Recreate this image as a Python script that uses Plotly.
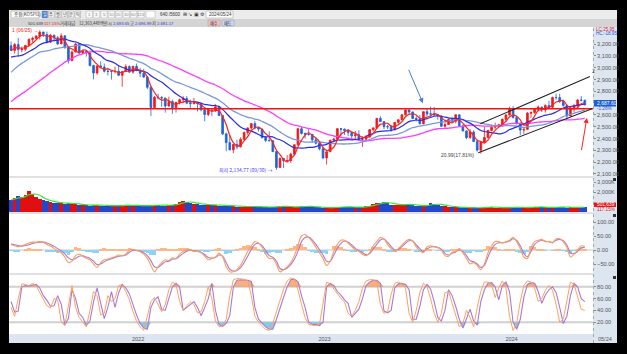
import pandas as pd
import numpy as np
import plotly.graph_objects as go

# ---------------- data (weekly) ----------------
weeks = pd.date_range("2021-04-30", "2024-05-24", freq="W-FRI")  # 161 weekly candles

opens = [3186,3147,3197,3153,3156,3188,3240,3249,3268,3302,3281,3217,3276,3254,3202,3270,3171,3060,3133,3201,
         3125,3140,3125,3019,2956,3015,3006,2970,2969,2968,2971,2936,2968,3010,2963,3012,2977,2954,2921,2834,
         2663,2750,2747,2744,2676,2713,2661,2707,2729,2739,2700,2696,2704,2695,2644,2604,2639,2638,2670,2595,
         2440,2366,2305,2350,2330,2393,2451,2490,2527,2492,2481,2409,2384,2382,2290,2155,2232,2212,2213,2268,
         2348,2483,2444,2437,2434,2389,2360,2313,2236,2289,2386,2395,2484,2480,2469,2451,2423,2432,2394,2395,
         2414,2476,2490,2571,2544,2501,2500,2475,2537,2559,2601,2641,2625,2570,2564,2526,2628,2609,2608,2602,
         2591,2504,2519,2563,2547,2601,2508,2465,2408,2456,2375,2302,2368,2409,2469,2496,2505,2517,2563,2599,
         2655,2578,2525,2472,2478,2615,2620,2648,2667,2642,2680,2666,2748,2747,2714,2681,2591,2656,2676,2727,
         2724]
highs = [3222,3209,3252,3180,3195,3249,3263,3278,3316,3305,3306,3285,3280,3270,3290,3275,3175,3145,3210,3203,
         3150,3145,3145,3025,3020,3055,3035,3000,2975,3010,3020,2970,3030,3020,3015,3035,3000,2990,2930,2840,
         2760,2780,2760,2745,2755,2730,2710,2740,2760,2760,2730,2745,2705,2700,2650,2650,2650,2690,2680,2600,
         2450,2430,2355,2390,2410,2460,2495,2530,2550,2500,2482,2420,2460,2385,2292,2240,2235,2260,2280,2350,
         2490,2500,2450,2490,2440,2410,2375,2330,2290,2390,2405,2485,2490,2485,2480,2460,2465,2470,2420,2430,
         2480,2495,2575,2590,2545,2515,2515,2540,2565,2605,2645,2650,2630,2590,2600,2630,2650,2670,2668,2610,
         2595,2540,2570,2585,2605,2602,2520,2470,2480,2470,2390,2370,2500,2475,2520,2535,2525,2570,2610,2670,
         2675,2595,2540,2490,2625,2630,2660,2680,2670,2690,2720,2755,2780,2780,2730,2685,2665,2695,2735,2760,
         2730]
lows = [3140,3120,3091,3130,3140,3185,3215,3235,3240,3260,3205,3210,3220,3192,3200,3160,3035,3055,3130,3110,
        3115,3095,3010,2901,2940,2995,2960,2935,2900,2950,2930,2839,2965,2955,2950,2970,2920,2915,2820,2591,
        2660,2730,2670,2620,2670,2610,2620,2690,2700,2690,2660,2690,2630,2630,2546,2590,2590,2625,2590,2430,
        2292,2300,2276,2310,2325,2390,2430,2470,2480,2460,2400,2370,2375,2285,2135,2150,2150,2200,2195,2265,
        2340,2435,2400,2425,2365,2350,2300,2225,2180,2285,2370,2390,2420,2430,2420,2400,2395,2390,2330,2380,
        2405,2460,2480,2540,2480,2480,2460,2470,2525,2555,2595,2605,2565,2545,2520,2520,2590,2580,2590,2560,
        2500,2490,2515,2535,2530,2500,2460,2395,2400,2370,2290,2273,2360,2400,2460,2480,2490,2500,2540,2595,
        2570,2520,2429,2440,2475,2575,2610,2630,2625,2620,2650,2660,2730,2700,2670,2560,2590,2620,2670,2715,
        2680]
closes = [3147,3197,3153,3156,3188,3240,3249,3268,3302,3281,3217,3276,3254,3202,3270,3171,3060,3133,3201,3125,
          3140,3125,3019,2956,3015,3006,2970,2969,2968,2971,2936,2968,3010,2963,3012,2977,2954,2921,2834,2663,
          2750,2747,2744,2676,2713,2661,2707,2729,2739,2700,2696,2704,2695,2644,2604,2639,2638,2670,2595,2440,
          2366,2305,2350,2330,2393,2451,2490,2527,2492,2481,2409,2384,2382,2290,2155,2232,2212,2213,2268,2348,
          2483,2444,2437,2434,2389,2360,2313,2236,2289,2386,2395,2484,2480,2469,2451,2423,2432,2394,2395,2414,
          2476,2490,2571,2544,2501,2500,2475,2537,2559,2601,2641,2625,2570,2564,2526,2628,2609,2608,2602,2591,
          2504,2519,2563,2547,2601,2508,2465,2408,2456,2375,2302,2368,2409,2469,2496,2505,2517,2563,2599,2655,
          2578,2525,2472,2478,2615,2620,2648,2667,2642,2680,2666,2748,2747,2714,2681,2591,2656,2676,2727,2724,
          2687]

# closes before the visible window (needed by the moving averages)
pre_weeks = pd.date_range(end="2021-04-23", periods=50, freq="W-FRI")
pre_closes = [1945,1927,1970,2030,2181,2132,2141,2134,2152,2150,2201,2200,2249,2351,2407,2304,2353,2368,2396,2412,
              2278,2327,2391,2341,2360,2267,2416,2493,2553,2633,2731,2770,2772,2806,2873,3152,3085,3140,2976,3120,
              3100,3107,3013,3026,3054,3039,3041,3112,3131,3186]

# daily-average volume per week, thousand shares
volume = [1200000,1400000,1600000,1500000,1700000,2100000,1800000,1500000,1300000,1200000,
          1100000,1000000,950000,900000,900000,850000,900000,800000,780000,750000,
          700000,680000,650000,700000,720000,650000,640000,620000,650000,640000,
          620000,660000,700000,650000,620000,680000,650000,620000,600000,650000,
          750000,700000,650000,650000,700000,750000,800000,1000000,1100000,1000000,
          900000,850000,800000,750000,750000,700000,700000,700000,650000,650000,
          600000,650000,600000,550000,550000,550000,550000,550000,550000,500000,
          500000,500000,480000,520000,530000,620000,560000,520000,500000,500000,
          540000,600000,560000,540000,520000,480000,460000,440000,420000,450000,
          480000,460000,520000,540000,500000,480000,460000,520000,500000,600000,
          650000,800000,900000,950000,1000000,900000,750000,700000,750000,720000,
          800000,750000,700000,650000,600000,600000,700000,900000,800000,700000,
          650000,600000,550000,500000,480000,460000,450000,440000,430000,420000,
          420000,430000,500000,520000,480000,450000,430000,420000,450000,480000,
          460000,480000,450000,430000,420000,550000,520000,480000,470000,460000,
          450000,460000,520000,500000,480000,450000,470000,460000,450000,480000,
          501639]

macd = [20,15,12,14,20,25,28,28,30,28, 20,14,6,-4,-10,-25,-45,-40,-20,-15,
        -22,-30,-35,-50,-62,-45,-35,-32,-28,-24, -18,-20,-15,0,2,-2,-6,-15,-30,-55,
        -78,-60,-45,-35,-38,-28,-30,-15,-5,2, 0,-5,-5,-10,-22,-35,-30,-25,-12,-25,
        -60,-78,-78,-70,-55,-30,-5,15,30,25, 10,-15,-30,-30,-50,-78,-70,-60,-45,-20,
        15,50,55,45,30,10,-10,-30,-55,-40, -5,20,35,35,25,12,0,-5,-15,-20,
        -10,15,30,45,40,20,5,-5,5,18, 30,38,32,10,-2,-10,12,15,12,8,
        0,-20,-22,-8,-5,5,-10,-30,-50,-45, -55,-70,-50,-10,15,30,30,25,30,35,
        45,30,5,-25,-30,10,30,35,38,30, 30,25,40,40,30,10,-25,-15,0,15,
        12]
signal = [22,19,16,14,16,19,23,26,28,28, 25,20,13,5,-3,-14,-28,-35,-30,-22,
          -21,-25,-30,-40,-52,-50,-42,-36,-31,-27, -22,-21,-18,-8,-2,-1,-4,-10,-20,-38,
          -60,-62,-52,-42,-40,-33,-31,-22,-12,-4, -1,-3,-4,-8,-16,-27,-29,-27,-18,-22,
          -45,-68,-75,-73,-63,-45,-22,2,20,24, 16,-2,-20,-26,-40,-66,-70,-64,-52,-33,
          -5,30,45,46,36,20,2,-18,-40,-40, -18,6,24,32,28,18,6,-2,-10,-17,
          -13,4,20,36,39,27,12,1,2,12, 24,33,32,18,5,-5,5,11,12,9,
          3,-12,-18,-12,-7,1,-5,-20,-38,-42, -50,-62,-55,-25,3,20,26,26,28,32,
          40,34,15,-12,-24,-5,20,30,35,31, 30,27,35,38,33,18,-10,-13,-5,8,
          10]

stoch_d = [55,37,39,80,82,81,83,84,78,65, 57,47,48,65,50,16,26,75,60,35,
           28,15,22,55,78,50,26,45,72,45, 70,84,78,68,50,32,18,10,8,45,
           58,63,42,40,60,80,86,80,40,45, 50,55,45,31,45,60,86,40,16,13,
           18,31,80,91,92,92,91,89,45,25, 18,12,8,8,25,42,62,80,92,93,
           89,65,45,20,16,16,14,20,80,86, 82,72,66,58,52,28,35,42,60,82,
           88,91,91,86,39,36,40,78,85,86, 84,75,25,25,47,75,84,76,55,28,
           22,40,75,65,47,25,10,25,42,22, 15,55,75,86,87,80,58,82,88,72,
           20,8,25,62,84,87,86,72,52,66, 75,80,70,45,18,30,65,86,80,60,
           55]
stoch_k = [45,30,60,85,84,82,86,82,70,58, 48,44,60,58,20,14,50,82,45,28,
           20,12,40,72,65,32,35,65,55,60, 82,84,72,58,38,22,12,6,30,55,
           62,50,38,50,75,88,84,55,40,48, 54,50,36,38,55,80,60,22,12,14,
           25,65,92,94,93,93,90,65,30,20, 14,8,6,18,38,58,76,90,95,93,
           75,50,28,16,15,14,16,55,88,85, 76,68,60,54,35,30,40,55,78,90,
           92,92,88,50,35,38,68,86,88,85, 78,35,20,40,70,86,80,60,35,20,
           35,70,72,52,30,12,18,40,28,12, 45,72,88,88,84,62,78,90,78,30,
           6,18,55,82,90,88,78,55,60,74, 82,74,50,20,25,58,88,84,65,42,
           40]

support_level = 2653
channel_upper = [("2023-11-02", 2525), ("2024-06-03", 2926)]
channel_lower = [("2023-10-29", 2280), ("2024-06-07", 2653)]
low_mark = ("2022-09-30", 2134.77)

# moving-average windows in weeks (short, mid, long, longest)
ma_windows = {"ma_s": 4, "ma_m": 12, "ma_l": 24, "ma_xl": 40}

# ---------------- derived series ----------------
all_close = pd.Series(pre_closes + closes, index=pre_weeks.append(weeks))
ma = {n: all_close.rolling(w).mean().loc[weeks] for n, w in ma_windows.items()}
vol_ma = pd.Series(volume, index=weeks).rolling(4, min_periods=1).mean()
hist = np.array(macd) - np.array(signal)
up = np.array(closes) >= np.array(opens)

# ---------------- pixel layout helpers (decoration only) ----------------
W, H = 627, 354
PL, PR, PT, PB = 9, 593, 27, 334
def px(x): return (x - PL) / (PR - PL)
def py(y): return (PB - y) / (PB - PT)
def dom(y_top, y_bot): return [py(y_bot), py(y_top)]

fig = go.Figure()

# main price
fig.add_trace(go.Candlestick(x=weeks, open=opens, high=highs, low=lows, close=closes,
                             increasing=dict(line=dict(color="#f01818", width=0.8), fillcolor="#f01818"),
                             decreasing=dict(line=dict(color="#1f63d8", width=0.8), fillcolor="#1f63d8"),
                             whiskerwidth=0, showlegend=False, xaxis="x", yaxis="y"))
for n, col, wd in [("ma_xl", "#ff3cff", 1.3), ("ma_l", "#7c98d8", 1.3), ("ma_m", "#2a2ee0", 1.2), ("ma_s", "#ff2020", 1.2)]:
    fig.add_trace(go.Scatter(x=weeks, y=ma[n], mode="lines", line=dict(color=col, width=wd, shape="spline"),
                             showlegend=False, hoverinfo="skip", xaxis="x", yaxis="y"))

# volume
fig.add_trace(go.Bar(x=weeks, y=volume, marker=dict(color=np.where(up, "#e01010", "#2448c8"), line=dict(width=0)),
                     showlegend=False, xaxis="x", yaxis="y2"))
fig.add_trace(go.Scatter(x=weeks, y=vol_ma, mode="lines", line=dict(color="#33e633", width=1.2, shape="spline"),
                         showlegend=False, xaxis="x", yaxis="y2"))

# macd
fig.add_trace(go.Bar(x=weeks, y=hist, marker=dict(color=np.where(hist >= 0, "#fcb88a", "#8fd3f2"), line=dict(width=0)),
                     showlegend=False, xaxis="x", yaxis="y3"))
fig.add_trace(go.Scatter(x=weeks, y=signal, mode="lines", line=dict(color="#a77ad0", width=1.1, shape="spline"),
                         showlegend=False, xaxis="x", yaxis="y3"))
fig.add_trace(go.Scatter(x=weeks, y=macd, mode="lines", line=dict(color="#ff9c5a", width=1.1, shape="spline"),
                         showlegend=False, xaxis="x", yaxis="y3"))

# stochastic with fills above 80 / below 20
sd = np.array(stoch_d, dtype=float)
fig.add_trace(go.Scatter(x=weeks, y=[80] * len(weeks), mode="lines", line=dict(width=0), showlegend=False,
                         hoverinfo="skip", xaxis="x", yaxis="y4"))
fig.add_trace(go.Scatter(x=weeks, y=np.maximum(sd, 80), mode="lines", line=dict(width=0), fill="tonexty",
                         fillcolor="rgba(245,150,90,0.75)", showlegend=False, hoverinfo="skip", xaxis="x", yaxis="y4"))
fig.add_trace(go.Scatter(x=weeks, y=[20] * len(weeks), mode="lines", line=dict(width=0), showlegend=False,
                         hoverinfo="skip", xaxis="x", yaxis="y4"))
fig.add_trace(go.Scatter(x=weeks, y=np.minimum(sd, 20), mode="lines", line=dict(width=0), fill="tonexty",
                         fillcolor="rgba(110,195,235,0.85)", showlegend=False, hoverinfo="skip", xaxis="x", yaxis="y4"))
fig.add_trace(go.Scatter(x=weeks, y=stoch_d, mode="lines", line=dict(color="#a77ad0", width=1.1),
                         showlegend=False, xaxis="x", yaxis="y4"))
fig.add_trace(go.Scatter(x=weeks, y=stoch_k, mode="lines", line=dict(color="#ffa060", width=1.0),
                         showlegend=False, xaxis="x", yaxis="y4"))

tickfont = dict(size=5.6, color="#555555", family="Liberation Sans")
yax = dict(side="right", showgrid=False, zeroline=False, ticks="outside", ticklen=2, tickcolor="#888",
           tickfont=tickfont, fixedrange=True, showline=False)

shapes = []
def rect(x0, y0, x1, y1, color, layer="below", line=None):
    shapes.append(dict(type="rect", xref="paper", yref="paper", x0=px(x0), x1=px(x1), y0=py(y1), y1=py(y0),
                       fillcolor=color, line=line or dict(width=0), layer=layer))
def hline(x0, x1, y, color, width=1, dash="solid", layer="below"):
    shapes.append(dict(type="line", xref="paper", yref="paper", x0=px(x0), x1=px(x1), y0=py(y), y1=py(y),
                       line=dict(color=color, width=width, dash=dash), layer=layer))

rect(9, 27, 593, 334, "white")
rect(593, 27, 617, 343, "#dde6f0")
rect(9, 334, 593, 343, "#dde6f0")
rect(9, 10, 617, 19, "#ececec")
rect(9, 19, 617, 27, "#d4d4d4")
# panel separators
for yy in (177, 213, 274):
    hline(9, 593, yy, "#c4c4c4", 1.2)
shapes.append(dict(type="line", xref="paper", yref="paper", x0=px(593.5), x1=px(593.5), y0=py(343), y1=py(27),
                   line=dict(color="#a0a8b4", width=1, dash="dot"), layer="below"))
for yy in (177, 213, 275):
    rect(613, yy + 1, 616, yy + 4, "#333333", layer="above")

# data-referenced shapes
shapes.append(dict(type="line", xref="x domain", yref="y", x0=0, x1=1, y0=support_level, y1=support_level,
                   line=dict(color="#ff1010", width=1.6), layer="above"))
for (a, b) in (channel_upper, channel_lower):
    shapes.append(dict(type="line", xref="x", yref="y", x0=a[0], y0=a[1], x1=b[0], y1=b[1],
                       line=dict(color="#222222", width=1.1), layer="above"))
shapes.append(dict(type="line", xref="x domain", yref="y3", x0=0, x1=1, y0=0, y1=0,
                   line=dict(color="#c8c8c8", width=1), layer="below"))
for lv in (80, 20):
    shapes.append(dict(type="line", xref="x domain", yref="y4", x0=0, x1=1, y0=lv, y1=lv,
                       line=dict(color="#d0d0d0", width=2), layer="below"))

ann = []
def txt(x, y, s, color="#333", size=6, xanchor="left", family="Liberation Sans"):
    ann.append(dict(xref="paper", yref="paper", x=px(x), y=py(y), text=s, showarrow=False, xanchor=xanchor,
                    yanchor="middle", font=dict(size=size, color=color, family=family)))

CJK = "Noto Sans CJK KR"
# header row 1
rect(11, 11, 39, 18, "white", layer="above", line=dict(color="#999", width=0.6))
txt(12, 14.5, "종합(KOSPI1)", size=4.5, family=CJK)
btns = ["일", "주", "월", "년", "분", "틱"]
for i, b in enumerate(btns):
    bx = 42 + i * 6.6
    rect(bx, 11, bx + 5.6, 18, "#3a7bd5" if i == 0 else "#f8f8f8", layer="above", line=dict(color="#999", width=0.5))
    txt(bx + 2.8, 14.5, b, size=4.2, xanchor="center", color="white" if i == 0 else "#333", family=CJK)
for i, b in enumerate(["1", "3", "5", "10", "20", "30", "60", "120"]):
    bx = 86 + i * 7.4
    rect(bx, 11, bx + 6.4, 18, "#f8f8f8", layer="above", line=dict(color="#aaa", width=0.5))
    txt(bx + 3.2, 14.5, b, size=4.2, xanchor="center", color="#888")
rect(146, 11, 155, 18, "white", layer="above", line=dict(color="#aaa", width=0.5))
txt(158, 14.5, "640 /5600", size=4.5, color="#333")
txt(181, 14.5, "⊞ ↘ ▣ ⚙", size=4.5, color="#333")
rect(206, 11, 233, 18, "white", layer="above", line=dict(color="#999", width=0.5))
txt(207, 14.5, "2024/05/24", size=4.5, color="#333")
# header row 2
row2 = [(26, "501,639", "#333", None), (42, "117.15%", "#e02020", None), (58, "거래대금", "#333", CJK),
        (77, "12,363,448백만", "#333", CJK), (106, "시", "#333", CJK), (111, "2,693.65", "#2040d0", None),
        (128, "고", "#333", CJK), (133, "2,696.99", "#2040d0", None), (150, "저", "#333", CJK),
        (155, "2,681.17", "#2040d0", None)]
for x0, s, c, f in row2:
    txt(x0, 23, s, size=4.2, color=c, family=f or "Liberation Sans")
rect(208, 20, 220, 26, "#f4c0c0", layer="above", line=dict(color="#999", width=0.5))
txt(214, 23, "매수", size=4.2, xanchor="center", color="#333", family=CJK)
rect(222, 20, 234, 26, "#c8d8f4", layer="above", line=dict(color="#999", width=0.5))
txt(228, 23, "매도", size=4.2, xanchor="center", color="#333", family=CJK)

# axis column extras
txt(594, 29.5, "LC:25.95", size=4.6, color="#e02020")
txt(594, 33.5, "HC:-18.95", size=4.6, color="#2050e0")
rect(594, 100, 616, 106.5, "#1e5fd0", layer="above")
txt(595, 103.3, "2,687.60", size=5, color="white")
txt(595, 108.8, "-1.26%", size=4.6, color="#2050e0")
rect(594, 202.5, 616, 207, "#e81818", layer="above")
txt(595, 204.8, "501,639", size=4.8, color="white")
txt(595, 209.6, "117.15%", size=4.6, color="#e02020")
txt(596, 339, "05/24", size=5.5, color="#555")

# chart annotations
ann.append(dict(x=low_mark[0], y=low_mark[1], xref="x", yref="y", text="최저 2,134.77 (09/30) →",
                showarrow=False, xanchor="right", xshift=-2, yanchor="middle",
                font=dict(size=5, color="#3b3bff", family=CJK)))
txt(10, 30, "1 (06/25) →", size=5, color="#ff2020")
ann.append(dict(x="2023-09-18", y=2262, xref="x", yref="y", text="20.99(17.81%)", showarrow=False,
                xanchor="center", font=dict(size=5, color="#444", family="Liberation Sans")))
ann.append(dict(x=channel_upper[1][0], y=channel_upper[1][1], xref="x", yref="y", text="2", showarrow=False,
                xanchor="left", yanchor="bottom", font=dict(size=5, color="#333")))
ann.append(dict(x="2023-07-13", y=2700, ax="2023-06-14", ay=2995, xref="x", yref="y", axref="x", ayref="y",
                showarrow=True, arrowhead=2, arrowsize=1, arrowwidth=1, arrowcolor="#4a7ccc", text=""))
ann.append(dict(x="2024-05-28", y=2575, ax="2024-05-17", ay=2290, xref="x", yref="y", axref="x", ayref="y",
                showarrow=True, arrowhead=2, arrowsize=1, arrowwidth=1, arrowcolor="#ff2020", text=""))

fig.update_layout(
    width=W, height=H, margin=dict(l=PL, r=W - PR, t=PT, b=H - PB),
    paper_bgcolor="black", plot_bgcolor="rgba(0,0,0,0)", bargap=0, showlegend=False,
    xaxis=dict(type="date", range=["2021-04-26", "2024-06-09"], showgrid=False, zeroline=False,
               tickvals=["2022-01-03", "2023-01-02", "2024-01-02"], ticktext=["2022", "2023", "2024"],
               ticks="", tickfont=dict(size=5.5, color="#555", family="Liberation Sans"), anchor="y4",
               rangeslider=dict(visible=False), showline=False, fixedrange=True),
    yaxis=dict(yax, domain=dom(27, 176), range=[2083, 3345],
               tickvals=[v for v in range(2100, 3300, 100) if v != 2700], tickformat=",.2f"),
    yaxis2=dict(yax, domain=dom(178, 212), range=[0, 3400000], tickvals=[2000000, 3000000],
                ticktext=["2,000K", "3,000K"]),
    yaxis3=dict(yax, domain=dom(214, 274), range=[-85.7, 128.6], tickvals=[-50, 0, 50, 100], tickformat=".2f"),
    yaxis4=dict(yax, domain=dom(275, 334), range=[0, 100], tickvals=[20, 40, 60, 80], tickformat=".2f"),
    shapes=shapes, annotations=ann,
)
fig.write_html("out.html")
